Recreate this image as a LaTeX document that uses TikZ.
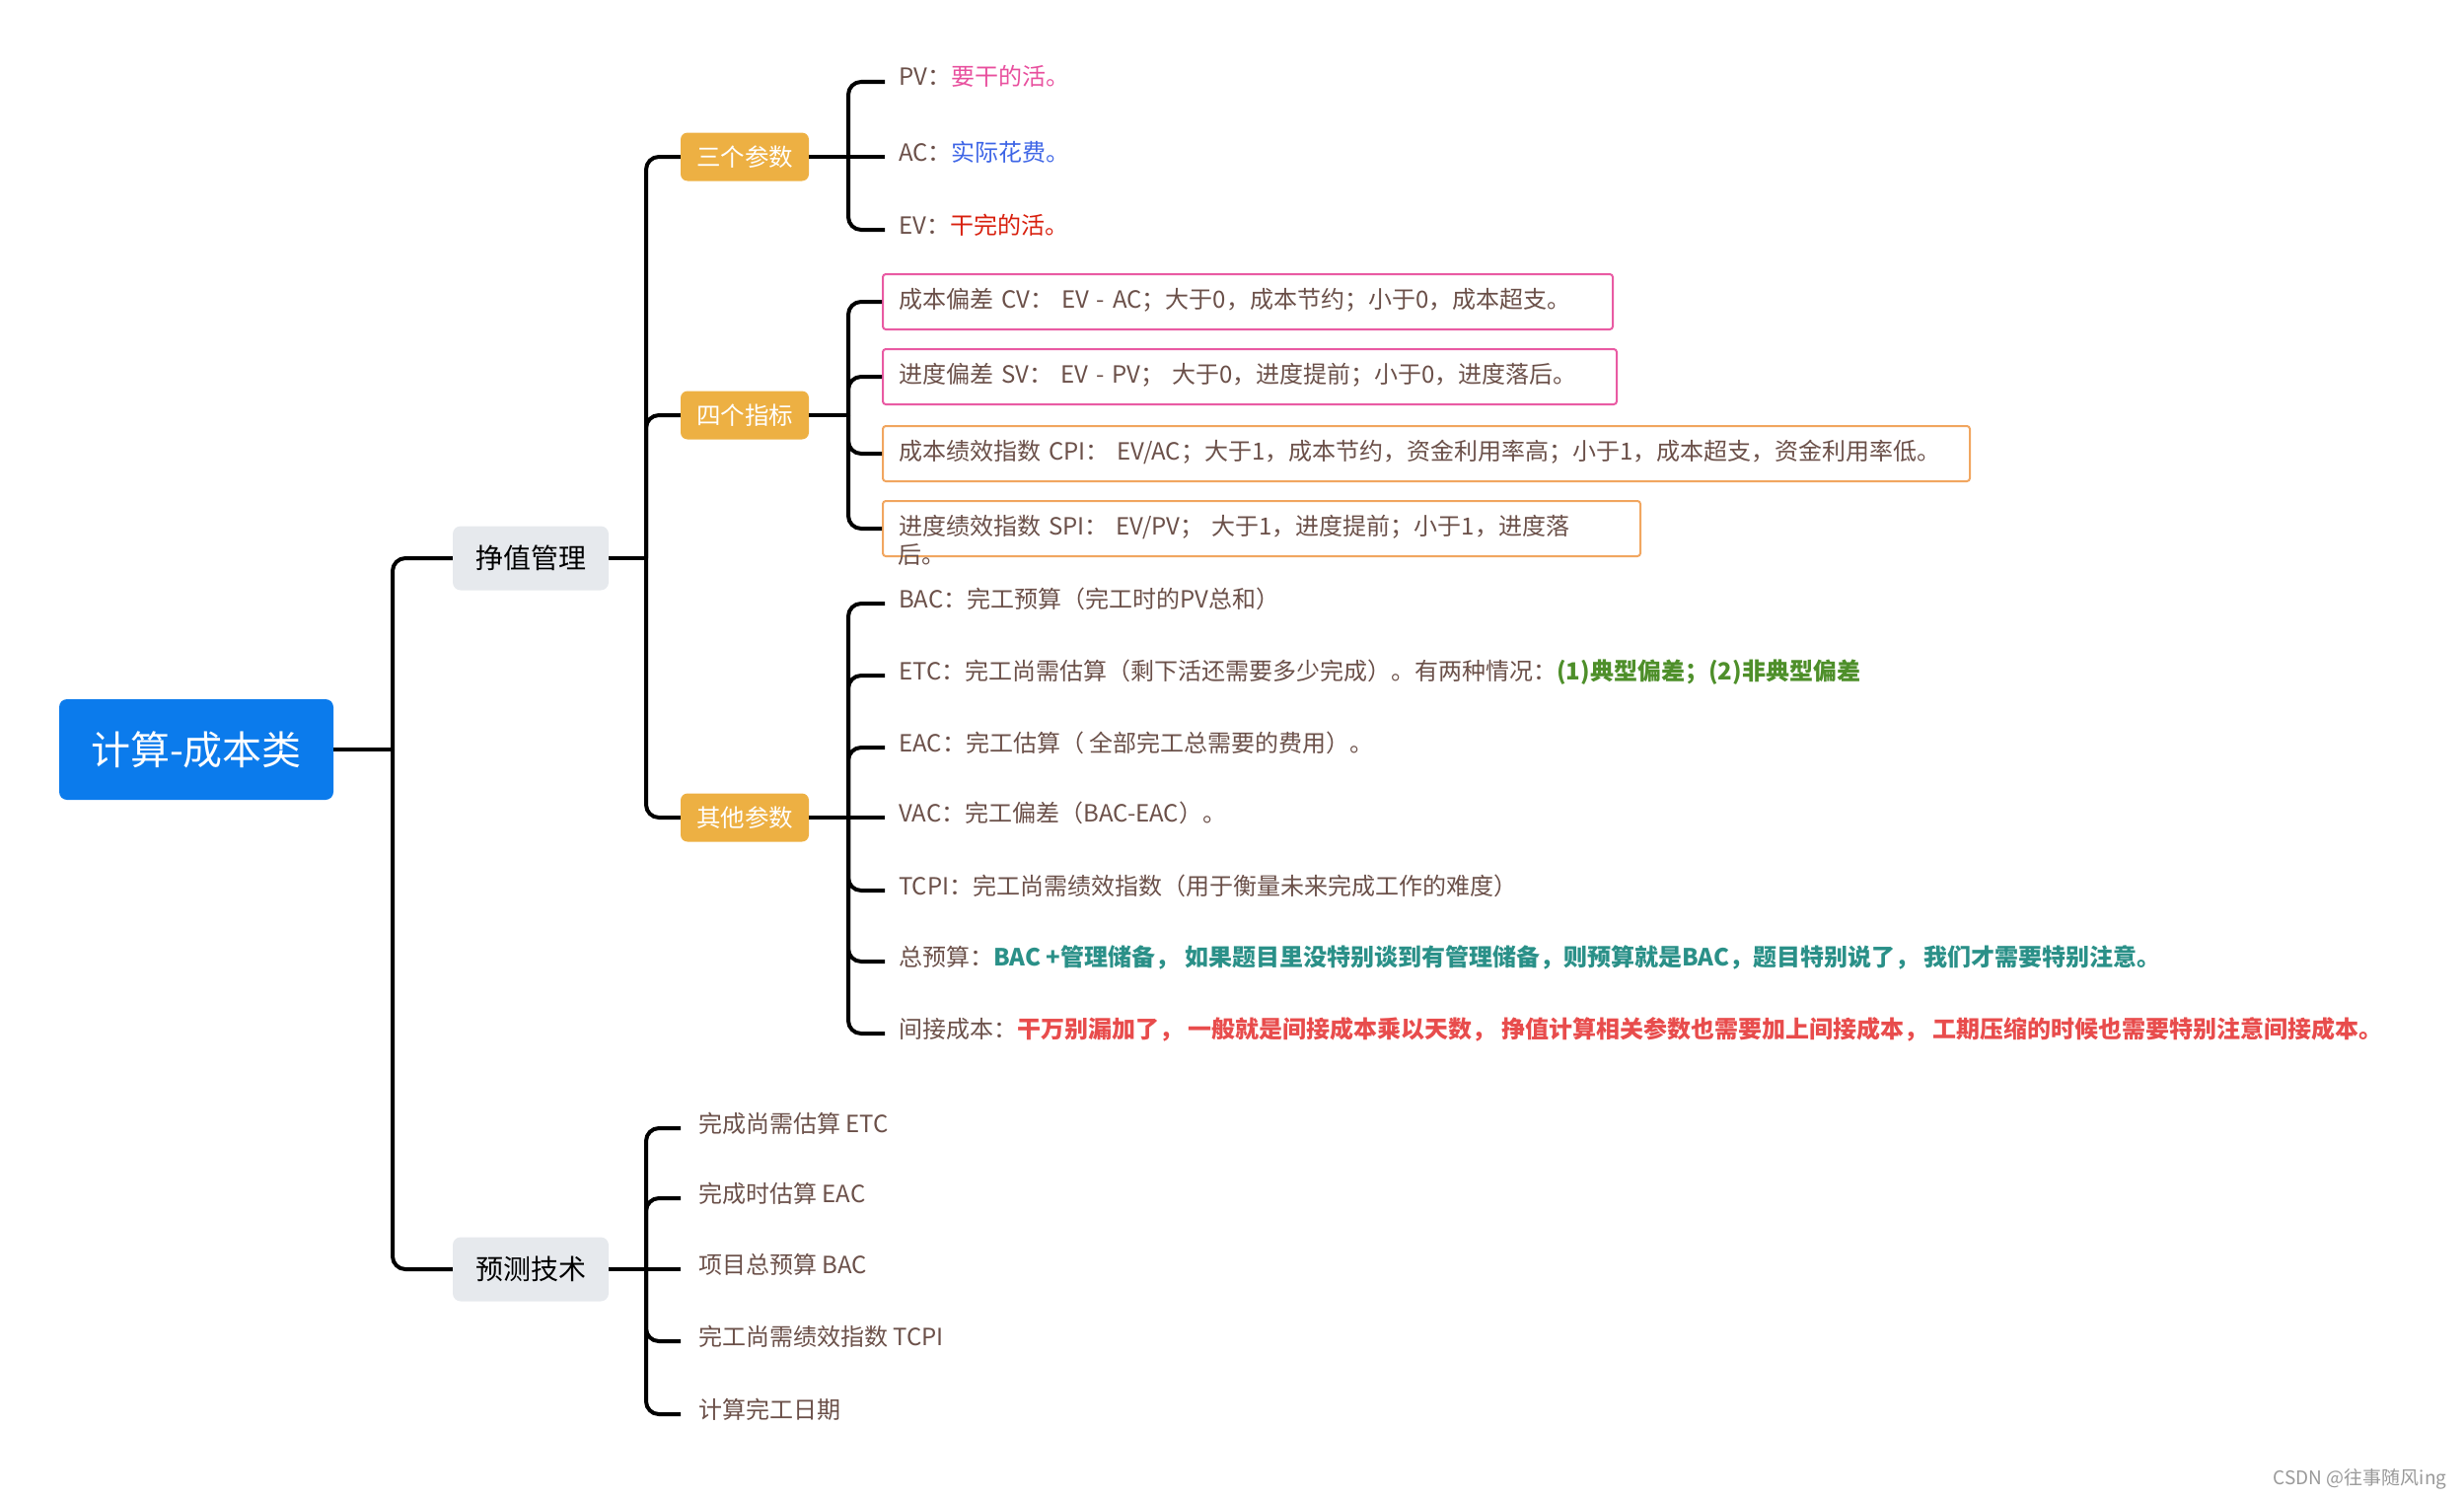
\documentclass[tikz,border=0pt]{standalone}
\usepackage{fontspec}
\setmainfont{Noto Sans CJK SC}
\usetikzlibrary{positioning}

\definecolor{rootblue}{HTML}{0B7BEC}
\definecolor{topicgray}{HTML}{E6E9ED}
\definecolor{subamber}{HTML}{EDB043}
\definecolor{leafbrown}{HTML}{6B5049}
\definecolor{pvpink}{HTML}{E8509E}
\definecolor{acblue}{HTML}{3F66E6}
\definecolor{evred}{HTML}{D8200E}
\definecolor{etcgreen}{HTML}{4E8F2A}
\definecolor{budgetteal}{HTML}{2A9088}
\definecolor{costred}{HTML}{E84C4C}
\definecolor{boxpink}{HTML}{E95BA3}
\definecolor{boxorange}{HTML}{F1A660}

\newcommand*{\rootfont}{\fontsize{40}{48}\selectfont}
\newcommand*{\topicfont}{\fontsize{28}{34}\selectfont}
\newcommand*{\subfont}{\fontsize{24.5}{30}\selectfont}
\newcommand*{\leaffont}{\fontsize{24}{32}\selectfont}

\begin{document}
\begin{tikzpicture}
[
	x=1pt,y=-1pt,
	link/.style={line width=4pt,rounded corners=13pt},
	rootbox/.style={fill=rootblue,rounded corners=8pt,minimum width=278pt,minimum height=102pt,text=white,font=\rootfont},
	topic/.style={fill=topicgray,rounded corners=8pt,minimum width=158pt,minimum height=65pt,font=\topicfont},
	subtopic/.style={fill=subamber,rounded corners=7pt,minimum width=130pt,minimum height=49pt,text=white,font=\subfont},
	leaf/.style={anchor=west,inner xsep=14pt,text=leafbrown,font=\leaffont,text height=19pt,text depth=11pt},
	framed/.style={leaf,draw=#1,line width=2pt,rounded corners=3pt,inner xsep=16pt,minimum height=56pt,align=left,text height=20pt,text depth=8pt}
]

	\useasboundingbox (0,0) rectangle (2498,1520);

	% main topics
	\node[rootbox] (root) at (199,760) {计算-成本类};
	\node[topic] (evm) at (538,566) {挣值管理};
	\node[topic] (fcst) at (538,1287) {预测技术};

	\node[subtopic] (three) at (755,159) {三个参数};
	\node[subtopic] (four) at (755,421) {四个指标};
	\node[subtopic] (other) at (755,829) {其他参数};

	% three parameters
	\node[leaf] (pv) at (897,83) {PV：\textcolor{pvpink}{要干的活。}};
	\node[leaf] (ac) at (897,159) {AC：\textcolor{acblue}{实际花费。}};
	\node[leaf] (ev) at (897,233) {EV：\textcolor{evred}{干完的活。}};

	% four indices
	\node[framed=boxpink,text width=708pt] (cv) at (894,306) {成本偏差 CV： EV - AC；大于0，成本节约；小于0，成本超支。};
	\node[framed=boxpink,text width=712pt] (sv) at (894,382) {进度偏差 SV： EV - PV； 大于0，进度提前；小于0，进度落后。};
	\node[framed=boxorange,text width=1070pt] (cpi) at (894,460) {成本绩效指数 CPI： EV/AC；大于1，成本节约，资金利用率高；小于1，成本超支，资金利用率低。};
	\node[framed=boxorange,text width=736pt] (spi) at (894,536) {进度绩效指数 SPI： EV/PV； 大于1，进度提前；小于1，进度落};
	\node[leaf,inner xsep=16pt,text height=20pt,text depth=8pt] (spitail) at (spi.south west) {后。};

	% other parameters
	\node[leaf] (bac) at (897,612) {BAC：完工预算（完工时的PV总和）};
	\node[leaf] (etc) at (897,685) {ETC：完工尚需估算（剩下活还需要多少完成）。有两种情况：\textcolor{etcgreen}{\bfseries (1)典型偏差；(2)非典型偏差}};
	\node[leaf] (eac) at (897,758) {EAC：完工估算（ 全部完工总需要的费用）。};
	\node[leaf] (vac) at (897,829) {VAC：完工偏差（BAC-EAC）。};
	\node[leaf] (tcpi) at (897,903) {TCPI：完工尚需绩效指数（用于衡量未来完成工作的难度）};
	\node[leaf] (total) at (897,975) {总预算：\textcolor{budgetteal}{\bfseries BAC +管理储备， 如果题目里没特别谈到有管理储备，则预算就是BAC，题目特别说了， 我们才需要特别注意。}};
	\node[leaf] (indirect) at (897,1048) {间接成本：\textcolor{costred}{\bfseries 干万别漏加了， 一般就是间接成本乘以天数， 挣值计算相关参数也需要加上间接成本， 工期压缩的时候也需要特别注意间接成本。}};

	% forecasting
	\node[leaf,inner xsep=18pt] (fetc) at (690,1144) {完成尚需估算 ETC};
	\node[leaf,inner xsep=18pt] (feac) at (690,1215) {完成时估算 EAC};
	\node[leaf,inner xsep=18pt] (fbac) at (690,1287) {项目总预算 BAC};
	\node[leaf,inner xsep=18pt] (ftcpi) at (690,1360) {完工尚需绩效指数 TCPI};
	\node[leaf,inner xsep=18pt] (fdate) at (690,1434) {计算完工日期};

	\node[anchor=east,text=black!40,font=\fontsize{19}{23}\selectfont] (mark) at (2484,1500) {CSDN @往事随风ing};

	% forks
	\coordinate (rootfork) at (398,760);
	\coordinate (evmfork) at (655,566);
	\coordinate (fcstfork) at (655,1287);
	\coordinate (threefork) at (860,159);
	\coordinate (fourfork) at (860,421);
	\coordinate (otherfork) at (860,829);

	% connectors
	\draw[link] (root.east) -- (rootfork);
	\draw[link] (rootfork) |- (evm.west);
	\draw[link] (rootfork) |- (fcst.west);

	\draw[link] (evm.east) -- (evmfork);
	\foreach \sub in {three,four,other}
		\draw[link] (evmfork) |- (\sub.west);

	\draw[link] (three.east) -- (threefork);
	\draw[link] (threefork) |- (pv.west);
	\draw[link] (threefork) -- (ac.west);
	\draw[link] (threefork) |- (ev.west);

	\draw[link] (four.east) -- (fourfork);
	\foreach \idx in {cv,sv,cpi,spi}
		\draw[link] (fourfork) |- (\idx.west);

	\draw[link] (other.east) -- (otherfork);
	\foreach \prm in {bac,etc,eac,tcpi,total,indirect}
		\draw[link] (otherfork) |- (\prm.west);
	\draw[link] (otherfork) -- (vac.west);

	\draw[link] (fcst.east) -- (fcstfork);
	\foreach \tech in {fetc,feac,ftcpi,fdate}
		\draw[link] (fcstfork) |- (\tech.west);
	\draw[link] (fcstfork) -- (fbac.west);

\end{tikzpicture}
\end{document}
